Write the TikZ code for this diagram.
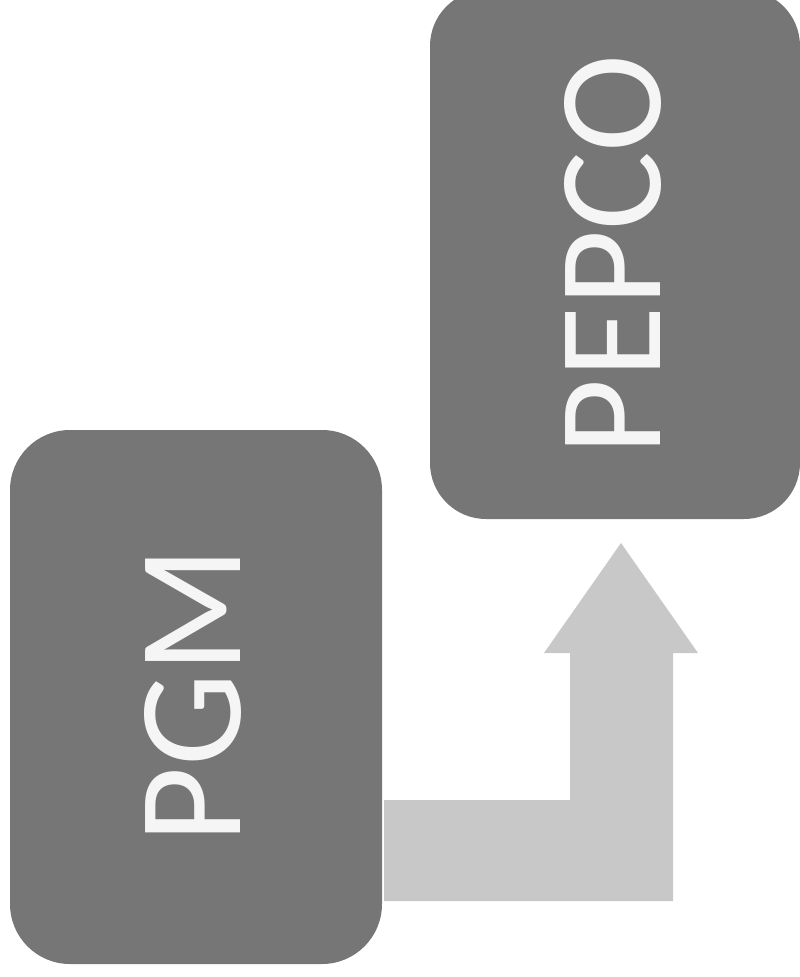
\documentclass[tikz,border=0pt]{standalone}
\usepackage{fontspec}
\setmainfont{Carlito}
\definecolor{boxgray}{RGB}{118,118,118}
\definecolor{arrowgray}{RGB}{200,200,200}
\definecolor{txtwhite}{RGB}{245,245,245}
\tikzset{
  btext/.style={text=txtwhite, font=\fontsize{148}{148}\selectfont, rotate=90},
}
\begin{document}
\begin{tikzpicture}[x=1pt,y=-1pt]
\useasboundingbox (0,0) rectangle (800,977);
% boxes
\fill[boxgray, rounded corners=60pt] (10,430) rectangle (382,964);
\fill[boxgray, rounded corners=56pt] (430,-10) rectangle (800,519);
\node[btext] (pgm) at (193,695) {PGM};
\node[btext] (pepco) at (613,255) {PEPCO};
% bent arrow
\coordinate (a0) at (384,800);
\fill[arrowgray] (a0) -- (570,800) -- (570,653) -- (544,653) -- (621,543)
  -- (698,653) -- (673,653) -- (673,901) -- (384,901) -- cycle;
\end{tikzpicture}
\end{document}
